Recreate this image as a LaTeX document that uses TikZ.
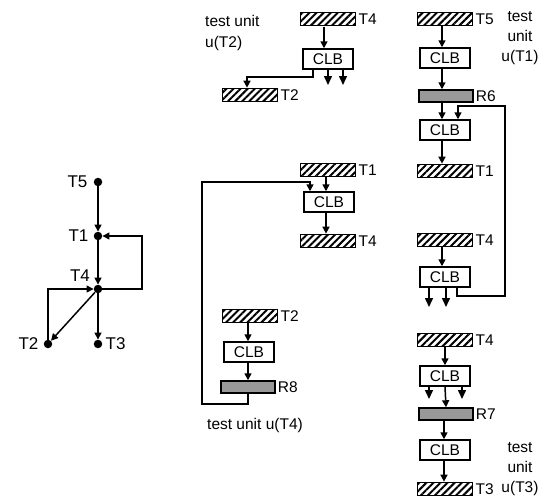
\documentclass[tikz,border=0pt]{standalone}
\usepackage{fontspec}
\setmainfont{Liberation Sans}
\usepackage{tikz}
\usetikzlibrary{positioning,arrows.meta,patterns.meta}
\newcommand{\lab}{\fontsize{15.5}{18}\selectfont}
\tikzset{
  tbox/.style={draw,line width=1.7pt,minimum width=55pt,minimum height=13pt,inner sep=0pt,
    pattern={Lines[angle=45,distance=5pt,line width=2pt]}},
  clb/.style={draw,line width=1.5pt,fill=white,minimum width=50pt,minimum height=20pt,inner sep=0pt,font=\lab},
  reg/.style={draw,line width=1.5pt,fill=black!40,minimum width=54pt,minimum height=12pt,inner sep=0pt},
  gdot/.style={circle,fill,inner sep=0pt,minimum size=8.5pt},
  sig/.style={-{Triangle[length=7pt,width=7pt]},line width=1.5pt},
  outsig/.style={-{Triangle[length=9pt,width=8pt]},line width=1.5pt},
  wire/.style={line width=1.5pt},
  lbl/.style={font=\lab,inner sep=1pt},
  glbl/.style={font=\fontsize{17}{20}\selectfont,inner sep=1pt},
  note/.style={font=\lab,inner sep=0pt}
}

\begin{document}
\begin{tikzpicture}[x=1pt,y=-1pt]
\useasboundingbox (0,0) rectangle (539,499);

% Test graph on the left
\node[gdot] (gT5) at (98,182) {};
\node[gdot] (gT1) at (98,236) {};
\node[gdot] (gT4) at (98,289) {};
\node[gdot] (gT2) at (48,344) {};
\node[gdot] (gT3) at (98,344) {};
\node[glbl,left=5pt of gT5] (lT5) {T5};
\node[glbl,left=4pt of gT1] (lT1) {T1};
\node[glbl] (lT4) at (80,276) {T4};
\node[glbl,left=4pt of gT2] (lT2) {T2};
\node[glbl,right=2pt of gT3] (lT3) {T3};
\coordinate (gR) at (142,236);
\coordinate (gL) at (48,289);

\draw[sig] (gT5) -- (gT1);
\draw[sig] (gT1) -- (gT4);
\draw[sig] (gT4) -- (gT3);
\draw[sig] (gT4) -- (gT2);
\draw[sig] (gT4) -| (gR) -- (gT1);
\draw[sig] (gT2) -- (gL) -- (gT4);

% Test unit u(T2)
\node[note,align=left,anchor=north west] (nA) at (205,15) {test unit\\[3pt]u(T2)};
\node[tbox] (a1) at (328,19) {};
\node[lbl,right=1pt of a1] (la1) {T4};
\node[clb] (a2) at (328,59) {CLB};
\node[tbox] (a3) at (250,95) {};
\node[lbl,right=1pt of a3] (la3) {T2};
\coordinate (a2o1) at (328,85);
\coordinate (a2o2) at (343,85);

\draw[sig] ([xshift=-4pt]a1.south) -- ([xshift=-4pt]a2.north);
\draw[outsig] (a2.south -| a2o1) -- (a2o1);
\draw[outsig] (a2.south -| a2o2) -- (a2o2);
\draw[sig] ([xshift=-15pt]a2.south) -- ++(0,7) -| ([xshift=-3pt]a3.north);

% Test unit u(T4)
\node[tbox] (b1) at (328,170) {};
\node[lbl,right=1pt of b1] (lb1) {T1};
\node[clb] (b2) at (329,202) {CLB};
\node[tbox] (b3) at (328,241) {};
\node[lbl,right=1pt of b3] (lb3) {T4};
\node[tbox] (b4) at (250,316) {};
\node[lbl,right=1pt of b4] (lb4) {T2};
\node[clb] (b5) at (249,352) {CLB};
\node[reg] (b6) at (248,387) {};
\node[lbl,right=1pt of b6] (lb6) {R8};
\node[note] (nB) at (255,425) {test unit u(T4)};
\coordinate (b8) at (202,182);

\draw[sig] ([xshift=-2pt]b1.south) -- ([xshift=-3pt]b2.north);
\draw[sig] ([xshift=-3pt]b2.south) -- ([xshift=-2pt]b3.north);
\draw[sig] ([xshift=-2pt]b4.south) -- ([xshift=-1pt]b5.north);
\draw[sig] ([xshift=-1pt]b5.south) -- (b6.north);
\draw[sig] (b6.south) -- ++(0,10) -| (b8) -| ([xshift=-19pt]b2.north);

% Test unit u(T1)
\node[note,align=center] (nC) at (520,38) {test\\[2pt]unit\\[2pt]u(T1)};
\node[tbox] (c1) at (445,19) {};
\node[lbl,right=1pt of c1] (lc1) {T5};
\node[clb] (c2) at (445,58) {CLB};
\node[reg] (c3) at (446,96) {};
\node[lbl,right=1pt of c3] (lc3) {R6};
\node[clb] (c4) at (445,130) {CLB};
\node[tbox] (c5) at (445,171) {};
\node[lbl,right=1pt of c5] (lc5) {T1};
\node[tbox] (c6) at (445,240) {};
\node[lbl,right=1pt of c6] (lc6) {T4};
\node[clb] (c7) at (445,277) {CLB};
\coordinate (c7o1) at (429,307);
\coordinate (c7o2) at (446,307);
\coordinate (c8) at (505,106);

\draw[sig] ([xshift=-3pt]c1.south) -- ([xshift=-3pt]c2.north);
\draw[sig] ([xshift=-3pt]c2.south) -- ([xshift=-4pt]c3.north);
\draw[sig] ([xshift=-4pt]c3.south) -- ([xshift=-3pt]c4.north);
\draw[sig] ([xshift=-3pt]c4.south) -- ([xshift=-3pt]c5.north);
\draw[sig] ([xshift=-3pt]c6.south) -- ([xshift=-3pt]c7.north);
\draw[outsig] (c7.south -| c7o1) -- (c7o1);
\draw[outsig] (c7.south -| c7o2) -- (c7o2);
\draw[sig] ([xshift=12pt]c7.south) -- ++(0,8) -| (c8) -| ([xshift=13pt]c4.north);

% Test unit u(T3)
\node[note,align=center] (nD) at (520,469) {test\\[2pt]unit\\[2pt]u(T3)};
\node[tbox] (d1) at (445,340) {};
\node[lbl,right=1pt of d1] (ld1) {T4};
\node[clb] (d2) at (445,376) {CLB};
\node[reg] (d3) at (446,414) {};
\node[lbl,right=1pt of d3] (ld3) {R7};
\node[clb] (d4) at (445,450) {CLB};
\node[tbox] (d5) at (445,489) {};
\node[lbl,right=1pt of d5] (ld5) {T3};
\coordinate (d2o1) at (429,399);
\coordinate (d2o2) at (462,399);

\draw[sig] (d1.south) -- (d2.north);
\draw[outsig] (d2.south -| d2o1) -- (d2o1);
\draw[outsig] (d2.south -| d2o2) -- (d2o2);
\draw[sig] (d2.south) -- (d3.north);
\draw[sig] ([xshift=-2pt]d3.south) -- ([xshift=-1pt]d4.north);
\draw[sig] ([xshift=-1pt]d4.south) -- ([xshift=-1pt]d5.north);

\end{tikzpicture}
\end{document}
